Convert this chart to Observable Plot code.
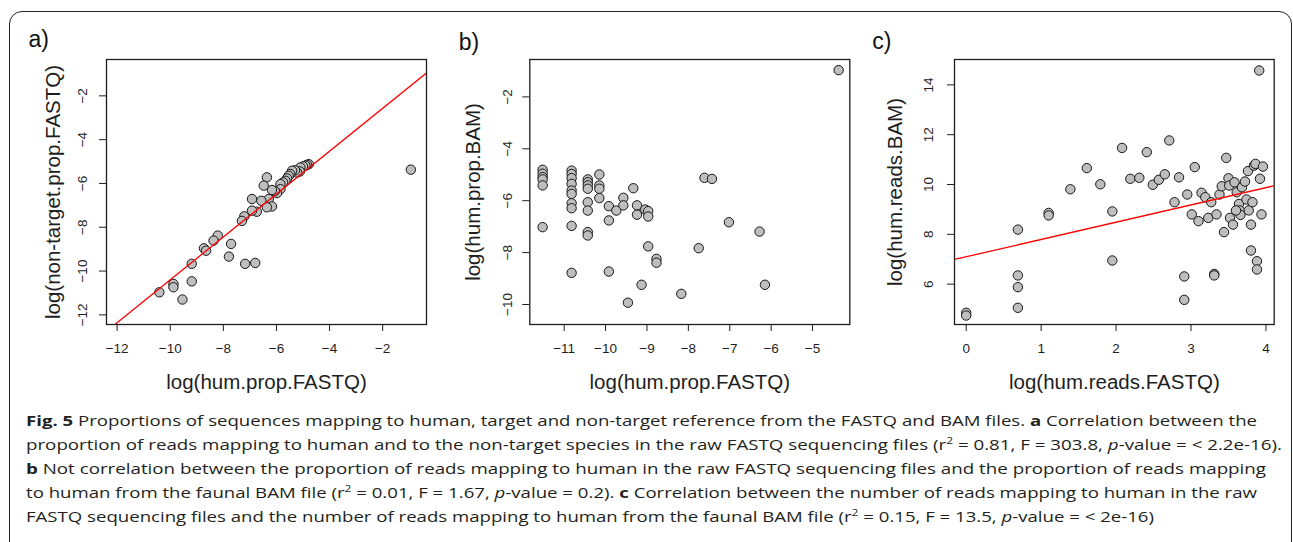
<!DOCTYPE html>
<html><head><meta charset="utf-8">
<script src="https://cdn.jsdelivr.net/npm/d3@7"></script>
<script src="https://cdn.jsdelivr.net/npm/@observablehq/plot@0.6"></script>
<style>
html,body{margin:0;padding:0;background:#fff;}
#root{position:relative;width:1293px;height:542px;overflow:hidden;background:#fff;}
#frame{position:absolute;left:9px;top:11px;width:1283px;height:620px;border:1.4px solid #231f20;border-radius:13px;box-sizing:border-box;}
.panel{position:absolute;top:0;}
.cap{position:absolute;left:25.5px;white-space:nowrap;font-family:"Open Sans";font-size:14px;color:#231f20;transform-origin:0 50%;line-height:20px;}
.cap b{font-weight:700;}
.cap sup{font-size:9px;line-height:0;vertical-align:6px;}
</style></head><body>
<div id="root">
  <div id="frame"></div>
  <div id="pa" class="panel" style="left:0px"></div>
  <div id="pb" class="panel" style="left:431px"></div>
  <div id="pc" class="panel" style="left:855px"></div>
  <div class="cap" data-w="1231" style="top:411.3px"><b>Fig. 5</b> Proportions of sequences mapping to human, target and non-target reference from the FASTQ and BAM files. <b>a</b> Correlation between the</div>
  <div class="cap" data-w="1256" style="top:435.3px">proportion of reads mapping to human and to the non-target species in the raw FASTQ sequencing files (r<sup>2</sup> = 0.81, F = 303.8, <i>p</i>-value = &lt; 2.2e-16).</div>
  <div class="cap" data-w="1240" style="top:459.3px"><b>b</b> Not correlation between the proportion of reads mapping to human in the raw FASTQ sequencing files and the proportion of reads mapping</div>
  <div class="cap" data-w="1231" style="top:483.3px">to human from the faunal BAM file (r<sup>2</sup> = 0.01, F = 1.67, <i>p</i>-value = 0.2). <b>c</b> Correlation between the number of reads mapping to human in the raw</div>
  <div class="cap" data-w="1128" style="top:507.3px">FASTQ sequencing files and the number of reads mapping to human from the faunal BAM file (r<sup>2</sup> = 0.15, F = 13.5, <i>p</i>-value = &lt; 2e-16)</div>
</div>
<script>
// ---- Panel a: log(hum.prop.FASTQ) vs log(non-target.prop.FASTQ)
const aX = [-0.94, -4.78, -4.85, -4.91, -5.00, -5.10, -5.12, -5.22, -5.30, -5.41, -5.48, -5.54, -5.60, -5.66, -5.75, -5.85, -5.85, -5.98, -6.06, -6.17, -6.36, -6.48, -6.29, -6.57, -6.17, -6.36, -6.92, -6.74, -6.92, -7.21, -7.30, -8.21, -8.37, -8.73, -8.65, -7.71, -7.79, -7.18, -6.80, -9.19, -9.19, -9.88, -9.88, -10.41, -9.54];
const aY = [-5.37, -5.12, -5.15, -5.19, -5.22, -5.27, -5.45, -5.50, -5.40, -5.42, -5.57, -5.65, -5.77, -5.88, -5.95, -6.03, -6.26, -6.44, -6.35, -6.30, -5.72, -6.10, -6.71, -6.79, -7.05, -7.09, -6.71, -7.29, -7.24, -7.50, -7.71, -8.38, -8.61, -8.96, -9.07, -8.76, -9.34, -9.67, -9.63, -9.67, -10.47, -10.59, -10.74, -10.97, -11.30];
const aFit = {intercept: -0.61, slope: 0.979};
const aXTicks = [-12, -10, -8, -6, -4, -2];
const aYTicks = [-2, -4, -6, -8, -10, -12];

// ---- Panel b: log(hum.prop.FASTQ) vs log(hum.prop.BAM)
const bX = [-4.37,
  -11.52, -11.52, -11.52, -11.52, -11.52, -11.52,
  -10.82, -10.82, -10.82, -10.82, -10.82, -10.82, -10.82, -10.82, -10.82, -10.82,
  -10.43, -10.43, -10.43, -10.43, -10.43, -10.43, -10.43, -10.43,
  -10.15, -10.15, -10.15, -10.15,
  -9.92, -9.92, -9.92, -9.74, -9.57, -9.57, -9.33, -9.24, -9.24, -9.04, -8.97, -8.97, -8.97, -8.77, -8.77, -9.13, -9.46, -8.17, -7.75, -7.61, -7.43, -7.02, -6.28, -6.15];
const bY = [-0.97,
  -4.81, -4.96, -5.09, -5.18, -5.41, -7.02,
  -4.84, -4.97, -5.13, -5.35, -5.61, -5.74, -6.10, -6.29, -6.97, -8.78,
  -5.18, -5.29, -5.41, -5.54, -6.06, -6.38, -7.21, -7.34,
  -4.99, -5.41, -5.54, -5.90,
  -6.21, -6.76, -8.73, -6.38, -5.89, -6.18, -5.52, -6.18, -6.54, -6.34, -6.40, -6.61, -7.76, -8.24, -8.39, -9.24, -9.93, -9.59, -7.83, -5.12, -5.16, -6.83, -7.19, -9.24];
const bXTicks = [-11, -10, -9, -8, -7, -6, -5];
const bYTicks = [-2, -4, -6, -8, -10];

// ---- Panel c: log(hum.reads.FASTQ) vs log(hum.reads.BAM)
const cX = [0.00, 0.00, 0.69, 0.69, 0.69, 0.69, 1.10, 1.10, 1.39, 1.61, 1.79, 1.95, 1.95, 2.08, 2.19, 2.31, 2.41, 2.49, 2.57, 2.65, 2.71, 2.84, 2.78, 2.91, 2.91, 2.95, 3.01, 3.05, 3.10, 3.14, 3.19, 3.23, 3.27, 3.31, 3.31, 3.34, 3.38, 3.41, 3.44, 3.47, 3.50, 3.51, 3.52, 3.56, 3.58, 3.61, 3.64, 3.65, 3.66, 3.68, 3.72, 3.74, 3.76, 3.77, 3.80, 3.80, 3.82, 3.84, 3.86, 3.88, 3.88, 3.91, 3.92, 3.94, 3.96, 3.60];
const cY = [4.85, 4.74, 8.19, 6.35, 5.88, 5.05, 8.86, 8.76, 9.81, 10.66, 10.01, 8.92, 6.95, 11.47, 10.23, 10.27, 11.30, 9.99, 10.19, 10.41, 11.77, 10.29, 9.29, 6.31, 5.37, 9.60, 8.80, 10.70, 8.53, 9.67, 9.49, 8.66, 9.29, 6.41, 6.35, 8.80, 9.60, 9.93, 8.09, 11.07, 10.25, 9.96, 8.66, 8.39, 10.09, 9.69, 9.22, 8.96, 8.78, 9.89, 10.12, 9.40, 10.54, 8.96, 7.35, 8.39, 9.29, 10.76, 10.83, 6.92, 6.59, 14.58, 10.23, 8.80, 10.72, 8.96];
const cFit = {intercept: 7.10, slope: 0.694};
const cXTicks = [0, 1, 2, 3, 4];
const cYTicks = [6, 8, 10, 12, 14];

const fmt = d => d < 0 ? "\u2212" + Math.abs(d) : String(d);
const INK = "#1e1e1e";
const TICKFS = 13.5;

function panel(o) {
  const pts = o.xs.map((x, i) => ({x, y: o.ys[i]}));
  const marks = [];
  marks.push(Plot.dot(pts, {x: "x", y: "y", r: 4.7, fill: "#bebebe", stroke: "#161616", strokeWidth: 1}));
  if (o.fit) {
    const ln = o.xDomain.map(x => ({x, y: o.fit.intercept + o.fit.slope * x}));
    marks.push(Plot.line(ln, {x: "x", y: "y", stroke: "#ff0000", strokeWidth: 1.3, clip: true}));
  }
  marks.push(Plot.frame({stroke: INK, strokeWidth: 1.3}));
  marks.push(Plot.axisX(o.xTicks, {tickSize: 7, tickPadding: 12, fontSize: TICKFS, tickFormat: fmt, label: null, stroke: INK, fill: INK}));
  marks.push(Plot.axisY(o.yTicks, {tickSize: 7, fill: "none", stroke: INK, label: null}));
  marks.push(Plot.text(o.yTicks, {y: d => d, text: fmt, frameAnchor: "left", textAnchor: "middle", lineAnchor: "middle", dx: o.yTickDx, rotate: -90, fontSize: TICKFS, fill: INK}));
  marks.push(Plot.text([o.xLabel], {text: d => d, frameAnchor: "bottom", textAnchor: "middle", lineAnchor: "middle", dy: 57.7, fontSize: 20.5, fill: INK}));
  marks.push(Plot.text([o.yLabel], {text: d => d, frameAnchor: "left", textAnchor: "middle", lineAnchor: "middle", dx: o.yLabelDx, rotate: -90, fontSize: 20.5, fill: INK}));
  marks.push(Plot.text([o.tag], {text: d => d, frameAnchor: "top-left", textAnchor: "start", lineAnchor: "bottom", dx: o.tagDx, dy: o.tagDy, fontSize: 23, fill: "#111"}));
  return Plot.plot({
    width: o.width, height: 400,
    marginTop: 59, marginBottom: 76, marginLeft: o.marginLeft, marginRight: o.marginRight,
    x: {domain: o.xDomain}, y: {domain: o.yDomain},
    style: {fontFamily: "'Liberation Sans', Arial, Helvetica, sans-serif", background: "transparent", overflow: "visible", color: INK},
    marks
  });
}

document.getElementById("pa").appendChild(panel({
  xs: aX, ys: aY, fit: aFit, xDomain: [-12.4, -0.35], yDomain: [-12.44, -0.34],
  xTicks: aXTicks, yTicks: aYTicks, width: 431, marginLeft: 106, marginRight: 5,
  xLabel: "log(hum.prop.FASTQ)", yLabel: "log(non-target.prop.FASTQ)",
  yTickDx: -24.3, yLabelDx: -53.3, tag: "a)", tagDx: -78, tagDy: -12.3
}));
document.getElementById("pb").appendChild(panel({
  xs: bX, ys: bY, fit: null, xDomain: [-11.83, -4.10], yDomain: [-10.77, -0.56],
  xTicks: bXTicks, yTicks: bYTicks, width: 424, marginLeft: 98.3, marginRight: 5.7,
  xLabel: "log(hum.prop.FASTQ)", yLabel: "log(hum.prop.BAM)",
  yTickDx: -22.6, yLabelDx: -56, tag: "b)", tagDx: -71, tagDy: -9.7
}));
document.getElementById("pc").appendChild(panel({
  xs: cX, ys: cY, fit: cFit, xDomain: [-0.156, 4.11], yDomain: [4.38, 15.02],
  xTicks: cXTicks, yTicks: cYTicks, width: 438, marginLeft: 99, marginRight: 19.3,
  xLabel: "log(hum.reads.FASTQ)", yLabel: "log(hum.reads.BAM)",
  yTickDx: -25.7, yLabelDx: -59, tag: "c)", tagDx: -82.3, tagDy: -10.7
}));

function fitCaption() {
  document.querySelectorAll(".cap").forEach(el => {
    el.style.transform = "none";
    const w = el.getBoundingClientRect().width;
    const target = +el.dataset.w;
    el.style.transform = `scaleX(${target / w})`;
  });
}
fitCaption();
if (document.fonts && document.fonts.ready) document.fonts.ready.then(fitCaption);
</script>
</body></html>
